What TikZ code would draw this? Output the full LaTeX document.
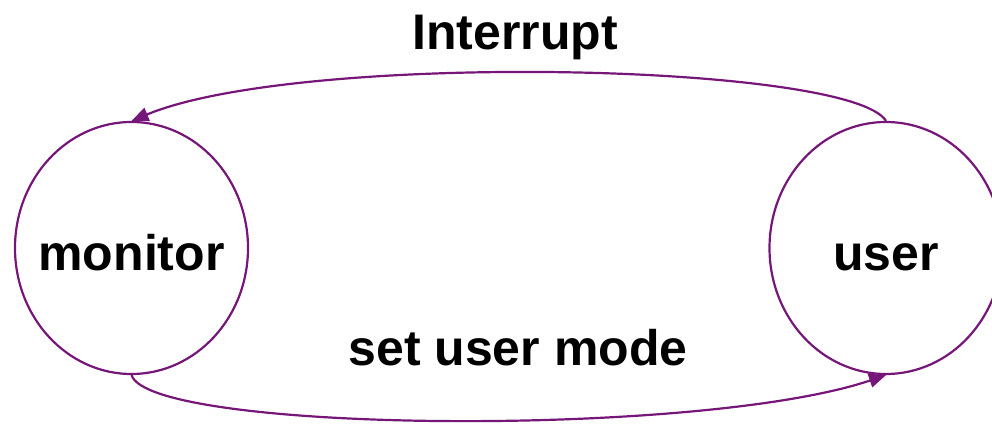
\documentclass[tikz,border=0pt]{standalone}
\usepackage{fontspec}
\setmainfont{Liberation Sans}
\usetikzlibrary{shapes.geometric,arrows.meta}
\definecolor{statepurple}{RGB}{118,22,120}

\begin{document}
\begin{tikzpicture}[x=1pt,y=1pt,
  mode/.style={ellipse, draw=statepurple, line width=2.2pt, minimum width=233pt, minimum height=252pt, inner sep=0pt},
  modetext/.style={text height=46pt, text depth=0pt, font=\fontsize{50}{60}\selectfont\bfseries},
  trans/.style={draw=statepurple, line width=2.2pt, -{Triangle[length=17pt,width=14pt]}},
  lbl/.style={anchor=base, font=\fontsize{50}{60}\selectfont\bfseries}]
\useasboundingbox (0,0) rectangle (992,423);
\node[mode, label={[modetext]center:monitor}] (monitor) at (131.5,175) {};
\node[mode, label={[modetext]center:user}] (user) at (886,175) {};
\node[lbl] (irq) at (515,373) {Interrupt};
\node[lbl] (setmode) at (518,58) {set user mode};
\draw[trans] (user.north) .. controls (850,360) and (300,372) .. (monitor.north);
\draw[trans] (monitor.south) .. controls (150,-10) and (700,-15) .. (user.south);
\end{tikzpicture}
\end{document}
